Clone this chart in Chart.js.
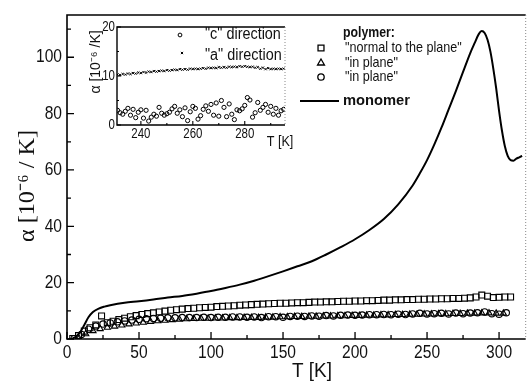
<!DOCTYPE html>
<html>
<head>
<meta charset="utf-8">
<script src="https://cdn.jsdelivr.net/npm/chart.js"></script>
<style>
  body { margin: 0; background: #fff; }
  #wrap { position: relative; width: 531px; height: 381px; }
  canvas { position: absolute; }
</style>
</head>
<body>
<div id="wrap">
  <canvas id="main" width="531" height="381" style="left:0;top:0"></canvas>
  <canvas id="inset" width="230" height="145" style="left:75px;top:10px"></canvas>
</div>
<script>
// monomer, solid line
const monoT = [3, 6, 9, 12, 15, 18, 22, 26, 30, 40, 50, 60, 70, 80, 90, 100, 110, 120, 130, 140,
  150, 160, 170, 180, 190, 200, 210, 220, 230, 240, 245, 250, 255, 260, 265, 270, 275, 280, 283, 286,
  288, 290, 292, 294, 296, 298, 300, 302, 304, 306, 308, 310, 312, 314, 316];
const monoA = [0, 0.8, 2.3, 5.0, 7.8, 9.6, 10.8, 11.5, 12.0, 12.9, 13.4, 14.0, 14.7, 15.3, 16.1, 17.0, 18.1, 19.3, 20.7, 22.3,
  24.0, 25.8, 27.6, 30.0, 32.6, 35.4, 38.7, 42.6, 47.8, 54.5, 58.8, 63.5, 69.0, 75.0, 81.5, 88.0, 94.8, 101.5, 105.0, 108.3,
  109.3, 108.6, 106.2, 102.0, 96.0, 89.0, 81.0, 74.0, 68.5, 65.0, 63.5, 63.3, 64.0, 64.5, 65.0];

// polymer, normal to the plane (squares)
const sqT = [4, 8, 12, 16, 20, 24, 28, 32, 36, 40, 44, 48, 52, 56, 60, 64, 68, 72, 76, 80,
  84, 88, 92, 96, 100, 104, 108, 112, 116, 120, 124, 128, 132, 136, 140, 144, 148, 152, 156, 160,
  164, 168, 172, 176, 180, 184, 188, 192, 196, 200, 204, 208, 212, 216, 220, 224, 228, 232, 236, 240,
  244, 248, 252, 256, 260, 264, 268, 272, 276, 280, 284, 288, 292, 296, 300, 304, 308];
const sqA = [0.2, 1.2, 2.8, 4.0, 5.0, 8.2, 5.8, 6.3, 6.9, 7.4, 7.9, 8.3, 8.7, 9.0, 9.3, 9.6, 9.9, 10.2, 10.4, 10.6,
  10.8, 10.9, 11.1, 11.2, 11.3, 11.5, 11.6, 11.7, 11.8, 12.0, 12.1, 12.2, 12.3, 12.4, 12.5, 12.6, 12.7, 12.7, 12.8, 12.9,
  12.9, 13.0, 13.1, 13.1, 13.2, 13.2, 13.3, 13.4, 13.4, 13.5, 13.5, 13.6, 13.6, 13.7, 13.8, 13.8, 13.9, 13.9, 14.0, 14.0,
  14.1, 14.1, 14.2, 14.2, 14.3, 14.3, 14.4, 14.4, 14.5, 14.6, 14.9, 15.6, 15.2, 14.7, 14.8, 14.9, 14.9];

// polymer, in plane (triangles)
const triT = [8, 13, 18, 23, 28, 33, 38, 43, 48, 53, 58, 63, 68, 73, 78, 83, 88, 93, 98, 103,
  108, 113, 118, 123, 128, 133, 138, 143, 148, 153, 158, 163, 168, 173, 178, 183, 188, 193, 198, 203,
  208, 213, 218, 223, 228, 233, 238, 243, 248, 253, 258, 263, 268, 273, 278, 283, 288, 293, 298, 303];
const triA = [0.5, 1.8, 2.9, 3.6, 4.1, 4.5, 4.9, 5.3, 5.6, 5.9, 6.2, 6.4, 6.6, 6.8, 7.0, 7.1, 7.2, 7.3, 7.3, 7.4,
  7.4, 7.5, 7.5, 7.6, 7.6, 7.6, 7.7, 7.7, 7.8, 7.8, 7.9, 7.9, 8.0, 8.0, 8.1, 8.1, 8.2, 8.2, 8.3, 8.3,
  8.4, 8.4, 8.5, 8.5, 8.6, 8.6, 8.7, 8.7, 8.8, 8.8, 8.9, 8.9, 9.0, 9.0, 9.1, 9.1, 9.2, 9.2, 9.1, 9.1];

// polymer, in plane (circles)
const ciT = [5, 10, 15, 20, 25, 30, 35, 40, 45, 50, 55, 60, 65, 70, 75, 80, 85, 90, 95, 100,
  105, 110, 115, 120, 125, 130, 135, 140, 145, 150, 155, 160, 165, 170, 175, 180, 185, 190, 195, 200,
  205, 210, 215, 220, 225, 230, 235, 240, 245, 250, 255, 260, 265, 270, 275, 280, 285, 290, 295, 300, 305];
const ciA = [0.1, 1.6, 3.5, 4.6, 5.3, 5.7, 6.1, 6.4, 6.7, 7.0, 7.2, 7.3, 7.4, 7.5, 7.5, 7.6, 7.6, 7.6, 7.7, 7.6,
  7.7, 7.7, 7.8, 7.8, 7.7, 7.8, 7.6, 7.9, 7.9, 7.7, 8.0, 8.1, 8.0, 8.2, 8.1, 8.3, 8.2, 8.4, 8.5, 8.4,
  8.5, 8.6, 8.6, 8.7, 8.6, 8.8, 8.7, 8.9, 9.1, 8.9, 9.0, 9.1, 8.9, 9.2, 9.0, 9.2, 9.3, 9.6, 9.0, 8.8, 9.3];

// inset: single crystal, 231-295 K
const inT = [231, 232, 233, 234, 235, 236, 237, 238, 239, 240, 241, 242, 243, 244, 245, 246, 247, 248, 249, 250,
  251, 252, 253, 254, 255, 256, 257, 258, 259, 260, 261, 262, 263, 264, 265, 266, 267, 268, 269, 270,
  271, 272, 273, 274, 275, 276, 277, 278, 279, 280, 281, 282, 283, 284, 285, 286, 287, 288, 289, 290,
  291, 292, 293, 294, 295];
const cDir = [3.0, 2.5, 2.2, 2.8, 3.4, 2.0, 3.2, 1.5, 2.6, 3.1, 1.4, 3.0, 0.8, 1.6, 2.2, 1.8, 3.6, 2.4, 2.0, 2.3,
  2.6, 3.3, 3.8, 2.4, 3.1, 1.7, 3.5, 0.9, 2.7, 3.8, 3.4, 1.2, 1.9, 3.2, 3.9, 2.8, 4.2, 2.0, 4.5, 1.8,
  5.0, 3.6, 1.7, 4.3, 2.2, 1.1, 3.1, 2.9, 3.3, 4.0, 5.6, 5.1, 1.6, 2.5, 4.6, 3.0, 3.6, 4.2, 2.6, 3.8,
  2.2, 3.4, 2.0, 2.9, 3.2];
const aDir = [10.3, 10.2, 10.4, 10.3, 10.5, 10.4, 10.6, 10.5, 10.7, 10.6, 10.8, 10.7, 10.9, 10.8, 11.0, 10.9, 11.0, 11.1, 11.0, 11.2,
  11.1, 11.2, 11.3, 11.2, 11.4, 11.3, 11.4, 11.3, 11.5, 11.4, 11.5, 11.4, 11.5, 11.6, 11.5, 11.7, 11.6, 11.7, 11.6, 11.8,
  11.7, 11.8, 11.7, 11.9, 11.8, 11.9, 11.8, 12.0, 11.9, 12.0, 11.9, 11.8, 11.9, 11.7, 11.8, 11.5, 11.7, 11.4, 11.6, 11.4,
  11.5, 11.4, 11.5, 11.4, 11.5];

// ticks
const xMajor = [0, 50, 100, 150, 200, 250, 300];
const xMinor = [25, 75, 125, 175, 225, 275];
const yMajor = [0, 20, 40, 60, 80, 100];
const yMinor = [10, 30, 50, 70, 90, 110];
const inXMajor = [240, 260, 280];
const inXMinor = [250, 270, 290];
const inYMajor = [0, 10, 20];
const inYMinor = [5, 15];

const SANS = '"Liberation Sans", Arial, sans-serif';
const SERIF = '"Liberation Serif", "Times New Roman", serif';

const pairs = (xs, ys) => xs.map((v, i) => ({ x: v, y: ys[i] }));

function text(ctx, s, x, y, size, o) {
  o = o || {};
  ctx.save();
  ctx.font = (o.weight || 'normal') + ' ' + size + 'px ' + (o.family || SANS);
  ctx.fillStyle = '#111';
  ctx.textAlign = o.align || 'center';
  ctx.textBaseline = 'middle';
  ctx.translate(x, y);
  if (o.rotate) ctx.rotate(o.rotate);
  ctx.scale(o.squeeze || 0.82, 1);
  ctx.fillText(s, 0, 0);
  ctx.restore();
}

// box, inward ticks and numbers
function drawAxes(chart, o) {
  const { ctx, chartArea: a } = chart;
  const x = chart.scales.x, y = chart.scales.y;
  ctx.save();
  ctx.strokeStyle = '#000';
  ctx.lineWidth = o.lw;
  ctx.beginPath();
  ctx.moveTo(a.right, a.top);
  ctx.lineTo(a.left, a.top);
  ctx.lineTo(a.left, a.bottom);
  ctx.lineTo(a.right, a.bottom);
  ctx.stroke();

  ctx.setLineDash([1, 2]);
  ctx.strokeStyle = '#888';
  ctx.lineWidth = 1;
  ctx.beginPath();
  ctx.moveTo(a.right, a.top);
  ctx.lineTo(a.right, a.bottom);
  ctx.stroke();
  ctx.setLineDash([]);

  ctx.strokeStyle = '#000';
  ctx.lineWidth = o.tw;
  ctx.beginPath();
  o.xMajor.forEach(v => { const p = x.getPixelForValue(v); ctx.moveTo(p, a.bottom); ctx.lineTo(p, a.bottom - o.major); });
  o.xMinor.forEach(v => { const p = x.getPixelForValue(v); ctx.moveTo(p, a.bottom); ctx.lineTo(p, a.bottom - o.minor); });
  o.yMajor.forEach(v => { const p = y.getPixelForValue(v); ctx.moveTo(a.left, p); ctx.lineTo(a.left + o.major, p); });
  o.yMinor.forEach(v => { const p = y.getPixelForValue(v); ctx.moveTo(a.left, p); ctx.lineTo(a.left + o.minor, p); });
  ctx.stroke();

  o.xMajor.forEach(v => text(ctx, String(v), x.getPixelForValue(v), a.bottom + o.xGap, o.font));
  o.yMajor.forEach(v => text(ctx, String(v), a.left - o.yGap, y.getPixelForValue(v), o.font, { align: 'right' }));
  ctx.restore();
}

const mainDecor = {
  id: 'mainDecor',
  afterDatasetsDraw(chart) {
    const ctx = chart.ctx;
    drawAxes(chart, { lw: 1.6, tw: 1.3, major: 7, minor: 4, font: 19, xGap: 14, yGap: 5,
      xMajor, xMinor, yMajor, yMinor });

    text(ctx, 'T [K]', 312, 371, 21, { squeeze: 0.9 });
    text(ctx, 'α [10⁻⁶ / K]', 28, 186, 23, { family: SERIF, rotate: -Math.PI / 2, squeeze: 1.05 });

    // legend
    ctx.save();
    ctx.strokeStyle = '#000';
    ctx.fillStyle = 'rgba(0,0,0,0)';
    ctx.lineWidth = 1.3;
    text(ctx, 'polymer:', 343, 33, 15, { align: 'left', weight: 'bold', squeeze: 0.82 });
    const rows = [
      { y: 48, style: 'rect', r: 4.2, label: '"normal to the plane"' },
      { y: 63, style: 'triangle', r: 4, label: '"in plane"' },
      { y: 77, style: 'circle', r: 3.2, label: '"in plane"' }
    ];
    rows.forEach(row => {
      Chart.helpers.drawPoint(ctx, { pointStyle: row.style, radius: row.r, rotation: 0, borderWidth: 1.3 }, 321, row.y);
      ctx.strokeStyle = '#000';
      text(ctx, row.label, 345, row.y, 15, { align: 'left', squeeze: 0.84 });
    });
    ctx.lineWidth = 2;
    ctx.beginPath();
    ctx.moveTo(300, 101);
    ctx.lineTo(339, 101);
    ctx.stroke();
    text(ctx, 'monomer', 343, 101, 15, { align: 'left', weight: 'bold', squeeze: 0.98 });
    ctx.restore();
  }
};

const insetDecor = {
  id: 'insetDecor',
  afterDatasetsDraw(chart) {
    const ctx = chart.ctx;
    drawAxes(chart, { lw: 1.4, tw: 1.1, major: 4, minor: 2, font: 14, xGap: 9, yGap: 2,
      xMajor: inXMajor, xMinor: inXMinor, yMajor: inYMajor, yMinor: inYMinor });

    text(ctx, 'T [K]', 205, 132, 14, { squeeze: 0.9 });
    text(ctx, 'α [10⁻⁶ /K]', 21, 52, 14, { rotate: -Math.PI / 2, squeeze: 1.0 });

    ctx.save();
    ctx.strokeStyle = '#000';
    ctx.fillStyle = 'rgba(0,0,0,0)';
    Chart.helpers.drawPoint(ctx, { pointStyle: 'circle', radius: 1.9, rotation: 0, borderWidth: 1 }, 105, 25);
    Chart.helpers.drawPoint(ctx, { pointStyle: 'crossRot', radius: 1.6, rotation: 0, borderWidth: 1 }, 107, 43);
    text(ctx, '"c" direction', 130, 25, 16, { align: 'left', squeeze: 0.9 });
    text(ctx, '"a" direction', 130, 46, 16, { align: 'left', squeeze: 0.9 });
    ctx.restore();
  }
};

const hollow = 'rgba(0,0,0,0)';

new Chart(document.getElementById('main'), {
  type: 'scatter',
  data: {
    datasets: [
      { label: 'monomer', data: pairs(monoT, monoA), showLine: true, pointRadius: 0,
        borderColor: '#000', borderWidth: 2, cubicInterpolationMode: 'monotone' },
      { label: '"normal to the plane"', data: pairs(sqT, sqA), pointStyle: 'rect', pointRadius: 4.2,
        borderColor: '#000', backgroundColor: hollow, borderWidth: 1.1 },
      { label: '"in plane"', data: pairs(triT, triA), pointStyle: 'triangle', pointRadius: 3.6,
        borderColor: '#000', backgroundColor: hollow, borderWidth: 1.1 },
      { label: '"in plane"', data: pairs(ciT, ciA), pointStyle: 'circle', pointRadius: 3.2,
        borderColor: '#000', backgroundColor: hollow, borderWidth: 1.1 }
    ]
  },
  options: {
    responsive: false,
    animation: false,
    devicePixelRatio: 1,
    layout: { padding: { top: 15, right: 1, left: 0, bottom: 0 } },
    plugins: { legend: { display: false }, tooltip: { enabled: false } },
    scales: {
      x: { type: 'linear', min: 0, max: 318.5, ticks: { display: false }, grid: { display: false },
        border: { display: false }, afterFit(s) { s.height = 42; } },
      y: { type: 'linear', min: 0, max: 115, ticks: { display: false }, grid: { display: false },
        border: { display: false }, afterFit(s) { s.width = 67; } }
    }
  },
  plugins: [mainDecor]
});

new Chart(document.getElementById('inset'), {
  type: 'scatter',
  data: {
    datasets: [
      { label: '"c" direction', data: pairs(inT, cDir), pointStyle: 'circle', pointRadius: 2.1,
        borderColor: '#000', backgroundColor: hollow, borderWidth: 1 },
      { label: '"a" direction', data: pairs(inT, aDir), pointStyle: 'crossRot', pointRadius: 1.6,
        borderColor: '#000', borderWidth: 1 }
    ]
  },
  options: {
    responsive: false,
    animation: false,
    devicePixelRatio: 1,
    layout: { padding: { top: 17, right: 20, left: 0, bottom: 0 } },
    plugins: { legend: { display: false }, tooltip: { enabled: false } },
    scales: {
      x: { type: 'linear', min: 230.8, max: 295.5, ticks: { display: false }, grid: { display: false },
        border: { display: false }, afterFit(s) { s.height = 30; } },
      y: { type: 'linear', min: 0, max: 20, ticks: { display: false }, grid: { display: false },
        border: { display: false }, afterFit(s) { s.width = 42; } }
    }
  },
  plugins: [insetDecor]
});
</script>
</body>
</html>
